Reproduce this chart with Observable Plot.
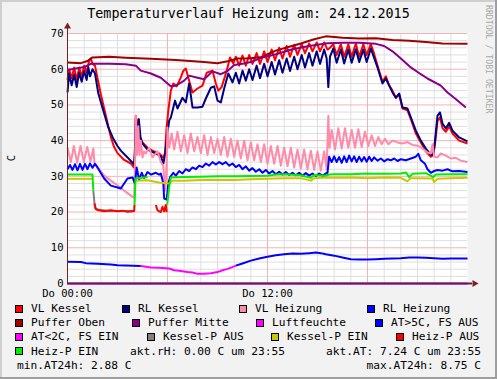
<!DOCTYPE html>
<html><head><meta charset="utf-8">
<script src="https://cdn.jsdelivr.net/npm/d3@7"></script>
<script src="https://cdn.jsdelivr.net/npm/@observablehq/plot@0.6"></script>
<style>
html,body{margin:0;padding:0;background:#fff;}
#chart{position:relative;width:497px;height:379px;background:#f2f2f2;overflow:hidden;font-family:"DejaVu Sans Mono",monospace;color:#000;}
#chart > svg{position:absolute;left:0;top:0;}
.edge{position:absolute;}
.t{position:absolute;white-space:pre;line-height:1;}
.sq{position:absolute;width:6px;height:6px;border:1px solid #000;}
</style>
</head><body>
<div id="chart"></div>
<script>
// ---------- data (hours since 00:00, value in °C) ----------
const title = "Temperaturverlauf Heizung am: 24.12.2015";
const yLabel = "C";
const xTickValues = [0, 12];
const xTickLabels = ["Do 00:00", "Do 12:00"];
const yTickValues = [0, 10, 20, 30, 40, 50, 60, 70];

const vlKessel = [[0,57],[0.1,60],[0.25,57.5],[0.4,60.5],[0.55,57],[0.7,60.5],[0.85,58],[1.0,61],[1.15,59],[1.3,62.5],[1.4,63],[1.5,61.5],[1.65,61],[1.8,57.5],[2.0,53],[2.2,49],[2.4,45],[2.6,41],[2.8,38.2],[3.0,36.5],[3.4,34.6],[3.8,33.6],[3.98,32.5],[4.05,36],[4.1,47],[4.17,41],[4.25,46],[4.35,40.5],[4.5,39.5],[4.8,38],[5.1,37.2],[5.5,36.4],[5.75,35.3],[5.85,36.5],[5.95,44],[6.05,48.4],[6.2,54],[6.35,56],[6.55,55.2],[6.8,57.7],[6.95,59.6],[7.1,60.2],[7.3,56.8],[7.5,53.5],[7.8,54.6],[8.1,55.4],[8.35,59],[8.7,59.6],[8.9,56],[9.05,54],[9.25,55],[9.45,58],[9.6,60.5],[9.75,63.3],[9.95,61.6],[10.1,63.5],[10.3,61],[10.5,63.8],[10.7,61],[10.9,64],[11.1,61.5],[11.35,64.5],[11.55,61.5],[11.8,65],[12.0,62],[12.25,65.5],[12.45,62.5],[12.7,66],[12.9,63],[13.15,66.5],[13.35,63.5],[13.6,66.8],[13.8,64],[14.05,67],[14.25,64.5],[14.5,67.2],[14.7,65],[14.95,67.5],[15.15,65],[15.4,67.5],[15.6,65.5],[15.75,66],[15.95,67],[16.15,64],[16.4,67],[16.6,63.5],[16.85,67],[17.05,63.5],[17.3,67.2],[17.5,63.5],[17.75,67],[17.95,64],[18.2,67],[18.35,65],[18.6,61],[18.9,56.5],[19.1,58],[19.3,55.5],[19.5,54],[19.7,52],[19.9,53],[20.1,49],[20.4,48.5],[20.6,46],[20.9,42],[21.2,39.5],[21.5,37],[21.8,35.5],[21.95,36],[22.05,39],[22.2,45.5],[22.35,46.5],[22.5,43.5],[22.7,42.5],[22.9,44],[23.1,42],[23.5,40],[24,39.2]];

const rlKessel = [[0,53.5],[0.1,58.8],[0.25,55.5],[0.4,58.5],[0.55,55],[0.7,59],[0.85,56.5],[1.0,59.5],[1.15,57],[1.25,60.5],[1.35,58],[1.5,60],[1.65,58.8],[1.85,53.2],[2.15,48.4],[2.45,43.7],[2.75,40.5],[3.0,38.5],[3.2,37.2],[3.6,35.3],[3.9,33.8],[4.0,33.4],[4.05,38],[4.1,46.2],[4.18,40],[4.28,46],[4.38,41],[4.5,39.2],[4.8,37.5],[5.3,36.4],[5.6,35.6],[5.75,33.6],[5.85,36],[6.0,42],[6.1,45.6],[6.2,46.5],[6.35,49.3],[6.45,51.2],[6.6,49],[6.9,52],[7.1,50.7],[7.3,56],[7.5,49.3],[7.8,49.3],[8.1,49.5],[8.3,51.8],[8.6,54.8],[8.8,55.2],[9.0,51.2],[9.2,50.7],[9.4,54.6],[9.65,58.8],[9.9,56.3],[10.1,59],[10.3,56],[10.5,59.6],[10.7,56.8],[10.9,60],[11.1,57],[11.35,61],[11.55,57.5],[11.8,61.5],[12.0,58],[12.25,62],[12.45,58.5],[12.7,62.5],[12.9,59],[13.15,63],[13.35,59.5],[13.6,63.5],[13.8,60],[14.05,64],[14.25,60.5],[14.5,64.5],[14.7,61],[14.95,65],[15.15,61.5],[15.4,65.5],[15.55,63],[15.65,55],[15.75,63.5],[15.95,65.8],[16.15,61.8],[16.4,65.5],[16.6,61.6],[16.85,65.5],[17.05,61.8],[17.3,65.6],[17.5,62],[17.75,65.5],[17.95,62],[18.2,65.8],[18.35,63.8],[18.6,60.5],[18.9,56],[19.1,57.4],[19.3,55.4],[19.5,53.5],[19.7,52],[19.9,53.2],[20.1,49.3],[20.4,49],[20.6,46.5],[20.9,42.8],[21.2,40],[21.5,37.8],[21.8,36],[21.95,36.2],[22.05,40],[22.2,47],[22.35,47.9],[22.5,44.8],[22.7,43.4],[22.9,45],[23.1,42.8],[23.5,40.9],[24,39.8]];

const vlHeizung = [[0,38],[0.2,34],[0.38,38.5],[0.58,33.8],[0.78,38.5],[0.98,34],[1.18,38.2],[1.38,34.2],[1.55,37.8],[1.62,33.6],[1.9,32],[2.2,30.2],[2.6,28.8],[3.0,27.5],[3.4,26],[3.8,24.6],[4.0,24],[4.05,33],[4.1,47],[4.17,36],[4.25,44],[4.32,36],[4.4,40],[4.5,35.3],[4.6,37],[4.7,36.4],[4.9,38],[5.1,35.3],[5.4,37],[5.6,34],[5.75,33],[5.85,26],[5.92,30],[6.0,43.7],[6.1,38],[6.25,42],[6.4,37.5],[6.6,42.5],[6.8,37],[7.0,41.5],[7.2,36.5],[7.4,42],[7.6,37],[7.8,41],[8.0,36.5],[8.2,41.5],[8.4,36],[8.6,41],[8.8,36.5],[9.0,40.5],[9.2,36],[9.4,41],[9.6,35.5],[9.8,40.5],[10.0,35.5],[10.2,40],[10.4,35],[10.6,40],[10.8,34.5],[11.0,39.5],[11.2,34.5],[11.4,39],[11.6,34],[11.8,39],[12.0,33.5],[12.2,38.5],[12.4,33.5],[12.6,38.5],[12.8,33],[13.0,38],[13.2,32.8],[13.4,38],[13.6,32.5],[13.8,37.5],[14.0,32.2],[14.2,37.5],[14.4,32],[14.6,37.2],[14.8,31.8],[15.0,37],[15.2,31.6],[15.4,37],[15.55,32],[15.65,47],[15.72,38],[15.85,43],[16.05,37.5],[16.25,43.5],[16.45,37.8],[16.65,43.5],[16.85,38],[17.05,43],[17.25,38],[17.45,43.2],[17.65,38.2],[17.85,42.5],[18.05,38.5],[18.25,41.5],[18.45,38.5],[18.65,41],[18.85,39],[19.05,40.5],[19.25,39],[19.5,40],[19.8,39.5],[20.1,39.2],[20.4,39.6],[20.7,38.8],[21.0,38.6],[21.3,37.8],[21.6,36.7],[21.8,36.4],[21.9,39],[22.0,35.5],[22.2,35.3],[22.4,36.4],[22.7,35.8],[23.0,35],[23.3,35.2],[23.6,34.4],[24,34]];

const rlHeizung = [[0,32],[0.15,33.2],[0.3,31.8],[0.45,33.4],[0.6,31.7],[0.75,33.5],[0.9,31.8],[1.05,33.5],[1.2,32],[1.35,33.6],[1.5,32.4],[1.65,33.5],[1.8,32.5],[2.2,29.4],[2.6,27.4],[3.0,26.9],[3.2,26.6],[3.6,29.4],[3.9,29.7],[4.05,28],[4.15,32.5],[4.3,29],[4.45,31],[4.6,29.5],[4.8,31.2],[5.0,30.5],[5.3,31],[5.5,30.5],[5.6,30.8],[5.75,28],[5.8,23.8],[5.95,23.5],[6.05,28],[6.15,29.7],[6.35,31],[6.5,30.2],[6.7,31.5],[6.9,30.8],[7.1,32],[7.3,31.5],[7.5,32.5],[7.7,32],[7.9,33],[8.1,32.6],[8.3,33.6],[8.5,33],[8.7,34],[8.9,33.3],[9.1,34],[9.3,33.4],[9.5,34],[9.7,33],[9.9,33.6],[10.1,32.6],[10.3,33.2],[10.5,32],[10.7,32.8],[10.9,31.6],[11.1,32.3],[11.3,31.3],[11.5,32],[11.7,31],[11.9,31.8],[12.1,30.8],[12.3,31.5],[12.5,30.6],[12.7,31.3],[12.9,30.5],[13.1,31.2],[13.3,30.4],[13.5,31],[13.7,30.3],[13.9,31],[14.1,30.2],[14.3,30.9],[14.5,30.2],[14.7,30.8],[14.9,30.1],[15.1,30.8],[15.3,30.2],[15.5,30.8],[15.6,31],[15.7,35.5],[15.85,34],[16.0,35.6],[16.15,34],[16.3,35.4],[16.45,33.8],[16.6,35.6],[16.75,34],[16.9,35.8],[17.05,34.2],[17.2,35.6],[17.35,34],[17.5,35.5],[17.65,34.2],[17.8,35.4],[17.95,34.1],[18.1,35.5],[18.25,34.3],[18.4,35.3],[18.6,34.4],[18.8,35],[19.0,34.2],[19.2,34.8],[19.4,34.5],[19.6,35],[19.8,34.3],[20.0,34.8],[20.3,34.5],[20.6,35],[20.9,35.5],[21.05,36.3],[21.2,34.5],[21.45,33.5],[21.6,32],[21.8,31],[22.0,31.5],[22.2,31.8],[22.5,31.6],[22.8,32],[23.1,31.4],[23.5,31.5],[24,31.2]];

const pufferOben = [[0,61.9],[0.8,61.7],[1.2,62.3],[1.5,63.3],[2.5,63.5],[3.5,63.2],[5,62.9],[6.5,62.6],[8,62.1],[9,61.7],[9.6,62.2],[10.2,63],[11,63.1],[11.7,63.4],[12,64.2],[12.5,65.2],[13.3,66.3],[14,67.2],[14.8,68.4],[15.5,69.2],[16.5,68.8],[17.5,68.6],[18.5,68.7],[19.5,68.2],[20.5,68],[21.5,67.6],[22.5,67.2],[24,67.1]];

const pufferMitte = [[0,59.8],[0.5,60.2],[1,60.6],[1.4,61.5],[2.5,61.5],[3.5,61.4],[4.1,61],[4.4,59.6],[5,58.8],[5.6,57.6],[6,56],[6.2,55.2],[6.5,55.4],[7,56.8],[7.3,58.2],[7.8,57.6],[8.2,57.2],[8.7,59.4],[9.2,58.6],[9.6,59.5],[10,61.2],[10.5,61.5],[11,62],[11.7,63.3],[12.5,64.2],[13.5,65.6],[14.5,66.5],[15.6,67.3],[16.5,67.4],[17.5,67.4],[18.5,67.1],[19,66.5],[19.5,65],[20,63],[20.6,60.5],[21.2,58.6],[21.6,57.4],[22.4,55.4],[22.8,53.5],[23.2,52],[23.9,49.3]];

const luftfeuchte = [[0,0],[24,0]];

const atWarm1 = [[0,6.1],[0.8,6.0],[1.1,5.7],[1.8,5.5],[2.6,5.3],[3.0,5.1],[4.4,4.9]];
const atCold = [[4.4,4.9],[5,4.5],[5.5,4.4],[6.1,4.2],[6.4,3.7],[6.7,3.6],[7.2,3.2],[7.5,3.1],[7.8,2.7],[8.2,2.7],[8.6,2.9],[9.0,3.2],[9.3,3.7],[9.6,4.1],[9.9,4.6],[10.1,5.0]];
const atWarm2 = [[10.1,5.0],[10.5,5.6],[11,6.4],[11.5,7.0],[12,7.5],[12.5,7.9],[13,8.2],[13.5,8.4],[14,8.3],[14.5,8.5],[14.9,8.7],[15.2,8.5],[15.5,8.2],[16,7.8],[16.5,7.3],[17,6.8],[17.5,6.7],[18,6.7],[18.5,6.8],[19,6.9],[19.5,7.0],[20,7.1],[20.5,7.3],[21,7.3],[21.5,7.2],[22,7.1],[22.5,6.9],[23,7.0],[24,7.0]];

const kesselPAus = [[1.55,26],[1.62,22.4],[1.7,20.8],[2.5,20.3],[4.0,20.3]];
const kesselPEin1 = [[0,29.3],[1.5,29.3]];
const kesselPEin2 = [[4.1,28.8],[4.8,28.9],[5.5,28.3],[6.1,28],[6.3,28.8],[7,28.8],[8,29],[9,29],[10,29],[11,29.2],[12,29.3],[13,29.5],[14,29.5],[14.6,28.8],[14.8,29.5],[15.5,29.7],[16,29.6],[17,29.7],[18,29.5],[19,29.7],[20,29.6],[20.4,28.6],[20.6,29.5],[21,29.5],[21.9,29.4],[22.0,28.4],[22.2,29.3],[23,29.5],[24,29.6]];

const heizPAus1 = [[1.62,22.4],[1.68,21],[1.8,20.6],[2.2,20.2],[2.6,20.5],[3.0,20.2],[3.3,20.4],[3.6,20.1],[4.0,20.3],[4.02,22]];
const heizPAus2 = [[5.3,22],[5.4,20.5],[5.6,20],[5.7,21.5],[5.8,20.2],[5.9,22],[5.95,20]];
const heizPEin1 = [[0,30.5],[1.5,30.5],[1.55,26]];
const heizPEin2 = [[4.02,22],[4.08,29.4],[4.5,29.6],[4.8,29.8]];
const heizPEin3 = [[5.98,22],[6.1,27],[6.2,29.7],[7,29.8],[8,29.9],[9,30],[10,30],[11,30.1],[12,30.2],[12.5,30.5],[13,30.6],[14,30.3],[14.6,29.6],[14.8,30.4],[15.5,30.2],[15.7,30.5],[16,30.6],[17,30.6],[18,30.8],[18.2,30.7],[19,30.7],[20,30.8],[20.3,31.1],[20.5,29.8],[20.7,30.7],[21,30.8],[21.5,30.9],[21.8,30.2],[21.95,29.8],[22.1,30.5],[23,30.6],[24,30.6]];

const values = { aktRH: "0.00", aktAT: "7.24", aktTime: "23:55", minAT: "2.88", maxAT: "8.75" };

// ---------- series list (drawing order = legend order) ----------
const series = [
  {name:"VL Kessel", color:"#ff0000", parts:[vlKessel]},
  {name:"RL Kessel", color:"#000080", parts:[rlKessel]},
  {name:"VL Heizung", color:"#ff8aaa", parts:[vlHeizung]},
  {name:"RL Heizung", color:"#0000ff", parts:[rlHeizung]},
  {name:"Puffer Oben", color:"#a00000", parts:[pufferOben]},
  {name:"Puffer Mitte", color:"#880088", parts:[pufferMitte]},
  {name:"Luftfeuchte", color:"#ff00ff", parts:[luftfeuchte]},
  {name:"AT>5C, FS AUS", color:"#0000ff", parts:[atWarm1, atWarm2]},
  {name:"AT<2C, FS EIN", color:"#ff00ff", parts:[atCold]},
  {name:"Kessel-P AUS", color:"#808080", parts:[kesselPAus]},
  {name:"Kessel-P EIN", color:"#c8c800", parts:[kesselPEin1, kesselPEin2]},
  {name:"Heiz-P AUS", color:"#ff0000", parts:[heizPAus1, heizPAus2]},
  {name:"Heiz-P EIN", color:"#00ee00", parts:[heizPEin1, heizPEin2, heizPEin3]}
];

// legend layout: [row, textX]
const legendLayout = [[0,31],[0,138],[0,255],[0,383],[1,31],[1,148],[1,272],[1,391],[2,31],[2,163],[2,287],[2,412],[3,31]];
const rowBase = [312.7, 326.8, 340.9, 355, 369];

// ---------- chart ----------
const rows = [];
series.forEach((s, si) => s.parts.forEach((p, pi) => p.forEach(([h, v]) => rows.push({h, v, key: si + "-" + pi, color: s.color}))));

const minorX = [1,2,3,4,5,7,8,9,10,11,13,14,15,16,17,19,20,21,22,23];
const majorX = [6, 12, 18];
const minorY = [2,4,6,8,12,14,16,18,22,24,26,28,32,34,36,38,42,44,46,48,52,54,56,58,62,64,66,68];
const majorY = [10, 20, 30, 40, 50, 60, 70];

const plot = Plot.plot({
  width: 497, height: 379,
  marginLeft: 67, marginRight: 30, marginTop: 33, marginBottom: 96,
  x: {domain: [0, 24], axis: null},
  y: {domain: [0, 70], axis: null},
  style: {fontFamily: "DejaVu Sans Mono", fontSize: "10.5px", background: "transparent", color: "#000"},
  marks: [
    Plot.frame({fill: "#ffffff", stroke: null}),
    Plot.ruleX(minorX, {stroke: "#dedede", strokeWidth: 1}),
    Plot.ruleY(minorY, {stroke: "#dedede", strokeWidth: 1}),
    Plot.ruleX(majorX, {stroke: "#f2b4b4", strokeWidth: 1}),
    Plot.ruleY(majorY, {stroke: "#f2b4b4", strokeWidth: 1}),
    Plot.line(rows, {x: "h", y: "v", z: "key", stroke: "color", strokeWidth: 2, strokeLinejoin: "round", strokeLinecap: "butt"}),
    Plot.ruleX([0], {stroke: "#6a2525", strokeWidth: 1, insetTop: -6}),
    Plot.ruleY([0], {stroke: "#5e1f56", strokeWidth: 2, insetRight: -5}),
    Plot.dot([70], {x: () => 0, y: d => d, symbol: "triangle", r: 2.6, fill: "#801f1f", stroke: null, dy: -7}),
    Plot.dot([24], {x: d => d, y: () => 0, symbol: "triangle", r: 2.6, fill: "#801f1f", stroke: null, dx: 7, rotate: 90}),
    Plot.axisY(yTickValues, {tickSize: 0, tickPadding: 4, label: null, fontSize: 10.5}),
    Plot.axisX(xTickValues, {tickSize: 0, tickPadding: 6, label: null, fontSize: 10.5, tickFormat: (d, i) => xTickLabels[xTickValues.indexOf(d)]})
  ]
});

const chart = document.getElementById("chart");
chart.appendChild(plot);

function addDiv(cls, css, text) {
  const d = document.createElement("div");
  d.className = cls;
  d.style.cssText = css;
  if (text != null) d.textContent = text;
  chart.appendChild(d);
  return d;
}
// frame edges
addDiv("edge", "left:0;top:0;width:497px;height:2px;background:#cfcfcf;");
addDiv("edge", "left:0;top:0;width:2px;height:379px;background:#cfcfcf;");
addDiv("edge", "left:0;top:377px;width:497px;height:2px;background:#9e9e9e;");
addDiv("edge", "left:495px;top:0;width:2px;height:379px;background:#9e9e9e;");

const FS = 11.2, asc = 0.846;
function textAt(x, baseline, str, fs, extra) {
  return addDiv("t", `left:${x}px;top:${baseline - asc * fs}px;font-size:${fs}px;${extra || ""}`, str);
}
// title
const tfs = 13.4;
addDiv("t", `left:0;width:497px;text-align:center;top:${18 - asc * tfs}px;font-size:${tfs}px;`, title);
// y label
addDiv("t", `left:11px;top:158px;font-size:10.5px;transform:translate(-50%,-50%) rotate(-90deg);`, yLabel);
// watermark
addDiv("t", `left:489px;top:5px;font-size:8.2px;color:#a8a8a8;writing-mode:vertical-rl;transform:translateX(-50%);`, "RRDTOOL / TOBI OETIKER");

// legend
series.forEach((s, i) => {
  const [row, x] = legendLayout[i];
  const b = rowBase[row];
  addDiv("sq", `left:${x - 16}px;top:${b - 8}px;background:${s.color};`);
  textAt(x, b, s.name, FS);
});
textAt(130, rowBase[3], `akt.rH: ${values.aktRH} C um ${values.aktTime}`, FS);
addDiv("t", `right:${497 - 481}px;top:${rowBase[3] - asc * FS}px;font-size:${FS}px;`, `akt.AT: ${values.aktAT} C um ${values.aktTime}`);
textAt(17, rowBase[4], `min.AT24h: ${values.minAT} C`, FS);
addDiv("t", `right:${497 - 481}px;top:${rowBase[4] - asc * FS}px;font-size:${FS}px;`, `max.AT24h: ${values.maxAT} C`);
</script>
</body></html>
